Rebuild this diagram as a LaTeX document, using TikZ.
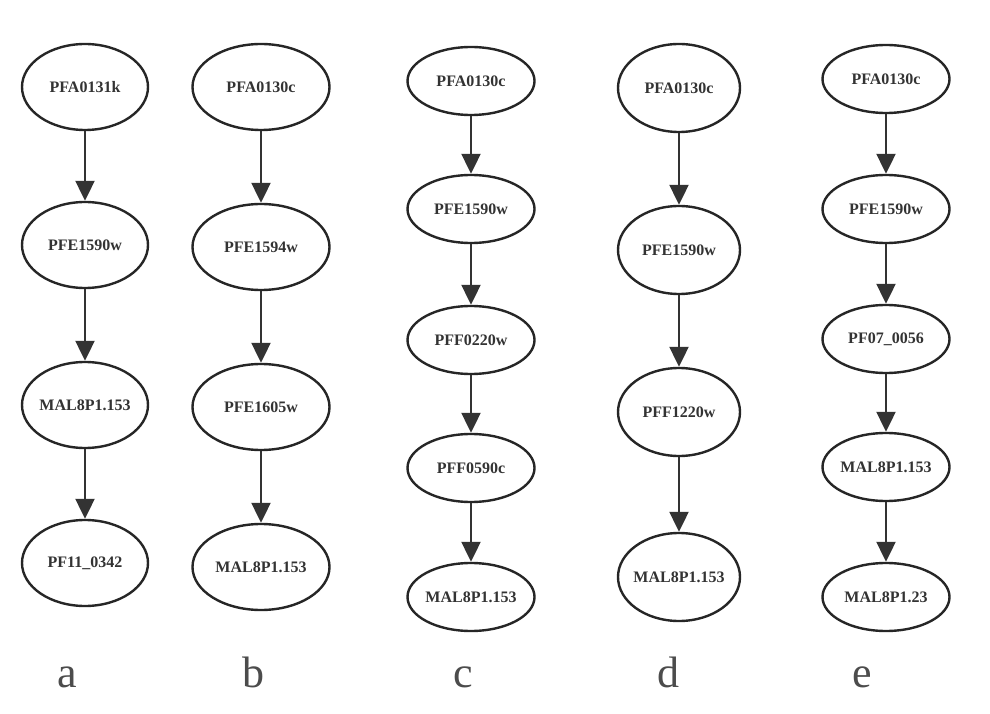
\documentclass[tikz,border=0pt]{standalone}
\usepackage{fontspec}
\setmainfont{Liberation Serif}
\usetikzlibrary{shapes.geometric,arrows.meta}
\begin{document}
\begin{tikzpicture}[x=1pt,y=1pt,
  gene/.style={ellipse,draw=black!85,line width=2.4pt,fill=white,
    inner xsep=-12pt,inner ysep=0pt,
    font=\fontsize{16}{16}\selectfont\bfseries,text=black!80},
  tall/.style={gene,minimum width=126pt,minimum height=86pt},
  flat/.style={gene,minimum width=127pt,minimum height=68pt},
  link/.style={draw=black!80,line width=2.2pt,-{Triangle[width=19pt,length=20pt]}},
  caption/.style={font=\fontsize{44}{44}\selectfont,text=black!70,anchor=base}
]
\useasboundingbox (0,0) rectangle (990,713);

% column a
\node[tall] (a1) at (85,626) {PFA0131k};
\node[tall] (a2) at (85,468) {PFE1590w};
\node[tall] (a3) at (85,308) {MAL8P1.153};
\node[tall] (a4) at (85,150) {PF11\_0342};
\draw[link] (a1) -- (a2);
\draw[link] (a2) -- (a3);
\draw[link] (a3) -- (a4);

% column b
\node[tall,minimum width=137pt] (b1) at (261,626) {PFA0130c};
\node[tall,minimum width=137pt] (b2) at (261,466) {PFE1594w};
\node[tall,minimum width=137pt] (b3) at (261,306) {PFE1605w};
\node[tall,minimum width=137pt] (b4) at (261,146) {MAL8P1.153};
\draw[link] (b1) -- (b2);
\draw[link] (b2) -- (b3);
\draw[link] (b3) -- (b4);

% column c
\node[flat] (c1) at (471,632) {PFA0130c};
\node[flat] (c2) at (471,504) {PFE1590w};
\node[flat] (c3) at (471,373) {PFF0220w};
\node[flat] (c4) at (471,245) {PFF0590c};
\node[flat] (c5) at (471,116) {MAL8P1.153};
\draw[link] (c1) -- (c2);
\draw[link] (c2) -- (c3);
\draw[link] (c3) -- (c4);
\draw[link] (c4) -- (c5);

% column d
\node[tall,minimum width=122pt,minimum height=88pt] (d1) at (679,625) {PFA0130c};
\node[tall,minimum width=122pt,minimum height=88pt] (d2) at (679,463) {PFE1590w};
\node[tall,minimum width=122pt,minimum height=88pt] (d3) at (679,301) {PFF1220w};
\node[tall,minimum width=122pt,minimum height=88pt] (d4) at (679,136) {MAL8P1.153};
\draw[link] (d1) -- (d2);
\draw[link] (d2) -- (d3);
\draw[link] (d3) -- (d4);

% column e
\node[flat] (e1) at (886,634) {PFA0130c};
\node[flat] (e2) at (886,504) {PFE1590w};
\node[flat] (e3) at (886,374) {PF07\_0056};
\node[flat] (e4) at (886,246) {MAL8P1.153};
\node[flat] (e5) at (886,116) {MAL8P1.23};
\draw[link] (e1) -- (e2);
\draw[link] (e2) -- (e3);
\draw[link] (e3) -- (e4);
\draw[link] (e4) -- (e5);

% panel letters
\node[caption] (la) at (67,26) {a};
\node[caption] (lb) at (253,26) {b};
\node[caption] (lc) at (463,26) {c};
\node[caption] (ld) at (668,26) {d};
\node[caption] (le) at (862,26) {e};
\end{tikzpicture}
\end{document}
